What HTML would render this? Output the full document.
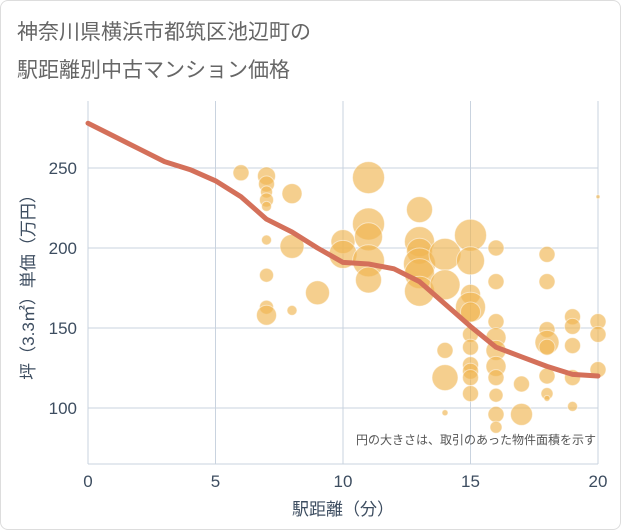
<!DOCTYPE html>
<html><head><meta charset="utf-8"><style>
body{margin:0;background:#fff;font-family:"Liberation Sans","Noto Sans CJK JP",sans-serif;}
#wrap{position:relative;width:619px;height:528px;border:1px solid #ddd;border-radius:8px;overflow:hidden;}
</style></head><body>
<div id="wrap">
<svg id="chart" width="619" height="528" style="font-family:'Liberation Sans','Noto Sans CJK JP',sans-serif">
<text x="16" y="38" font-size="21" fill="#666">神奈川県横浜市都筑区池辺町の</text>
<text x="16" y="76" font-size="21" fill="#666">駅距離別中古マンション価格</text>
<g id="grid"></g><g id="bubbles"></g><g id="line"></g><g id="axes"></g>
<text x="595" y="443" font-size="12" fill="#555" text-anchor="end">円の大きさは、取引のあった物件面積を示す</text>
<text x="342" y="514" font-size="17" fill="#3d4d60" text-anchor="middle">駅距離（分）</text>
<text transform="translate(33,282) rotate(-90)" font-size="17" fill="#3d4d60" text-anchor="middle">坪（3.3㎡）単価（万円）</text>
</svg></div>
<script>
const xTicks=[0,5,10,15,20];
const yTicks=[100,150,200,250];
const lineX=[0,1,2,3,4,5,6,7,8,9,10,11,12,13,14,15,16,17,18,19,20];
const lineY=[278,270,262,254,249,242,232,218,210,200,191,190,187,179,165,151,138,132,126,121,120];
const bubX=[6,7,7,7,7,7,7,7,7,7,8,8,8,9,10,10,11,11,11,11,11,13,13,13,13,13,13,14,14,14,14,14,15,15,15,15,15,15,15,15,15,15,15,16,16,16,16,16,16,16,16,16,16,17,17,18,18,18,18,18,18,18,18,19,19,19,19,19,20,20,20,20];
const bubY=[247,245,240,235,230,226,205,183,163,158,234,201,161,172,204,196,244,215,207,192,180,224,204,198,190,184,173,196,177,136,119,97,208,192,171,163,160,146,138,127,123,119,109,200,179,154,144,136,126,119,108,96,88,115,96,196,179,149,141,138,120,109,106,157,151,139,119,101,232,154,146,124];
const bubR=[8,9,8,6,7,5,5,7,7,10,10,12,5,12,12,14,16,16,14,16,13,13,15,13,16,15,15,16,15,8,13,3,16,14,10,15,10,8,8,8,8,8,8,8,8,8,10,10,10,8,7,8,6,8,11,8,8,8,12,8,8,6,3,8,8,8,8,5,2,8,8,8];
const L=87,R=597,T=100,B=463;
const sx=v=>L+(v-0)/20*(R-L);
const sy=v=>407-(v-100)*1.6;
const NS="http://www.w3.org/2000/svg";
function mk(tag,attrs,parent){const e=document.createElementNS(NS,tag);for(const k in attrs)e.setAttribute(k,attrs[k]);parent.appendChild(e);return e;}
const grid=document.getElementById('grid'),axes=document.getElementById('axes');
xTicks.forEach(t=>{
 const g=mk('line',{x1:sx(t),x2:sx(t),y1:T,y2:B,stroke:'#c9d3df','stroke-width':1},grid);
 
 
 const tx=mk('text',{x:sx(t),y:486,'font-size':17,fill:'#3d4d60','text-anchor':'middle'},axes);
 tx.textContent=t;
 
 
});
yTicks.forEach(t=>{
 const g=mk('line',{x1:L,x2:R,y1:sy(t),y2:sy(t),stroke:'#c9d3df','stroke-width':1},grid);
 
 
 const tx=mk('text',{x:76,y:sy(t)+6,'font-size':17,fill:'#3d4d60','text-anchor':'end'},axes);
 tx.textContent=t;
 
 
});
const xa=mk('line',{x1:L,x2:R,y1:B,y2:B,stroke:'#c9d3df','stroke-width':1},axes);


const bg=document.getElementById('bubbles');
bubX.forEach((x,i)=>{
 const c=mk('circle',{cx:sx(x),cy:sy(bubY[i]),r:bubR[i],fill:'#f0b552','fill-opacity':0.65,stroke:'#fff','stroke-opacity':0.5,'stroke-width':1},bg);
 
 
});
const pts=lineX.map((x,i)=>sx(x)+','+sy(lineY[i])).join(' ');
const pl=mk('polyline',{points:pts,fill:'none',stroke:'#d4705a','stroke-width':5,'stroke-linejoin':'round','stroke-linecap':'round'},document.getElementById('line'));


</script>
</body></html>
